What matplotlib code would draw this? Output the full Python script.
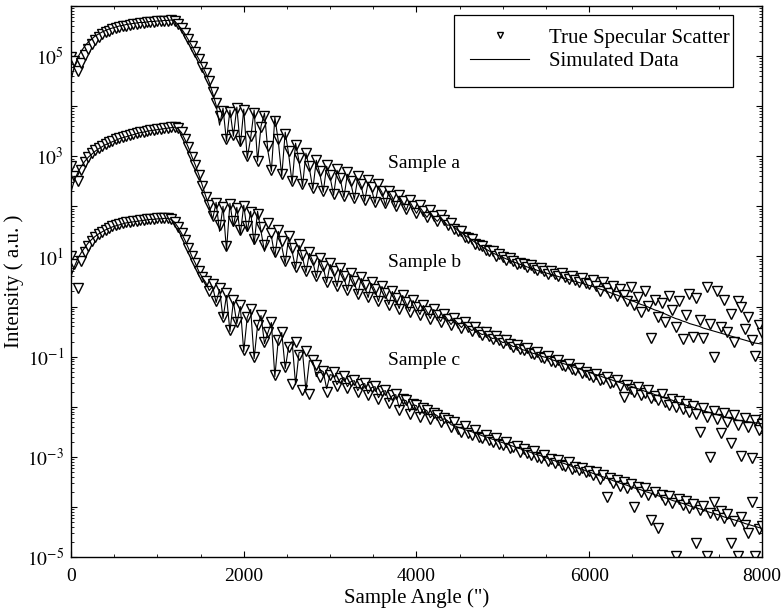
import numpy as np
import matplotlib
matplotlib.use('Agg')
import matplotlib.pyplot as plt
from matplotlib.patches import Rectangle
from matplotlib.ticker import FixedLocator, LogLocator, NullFormatter

plt.rcParams['font.family'] = ['Liberation Serif', 'DejaVu Serif']
plt.rcParams['mathtext.fontset'] = 'stix'

# sample angle grid (arc seconds), one point every 40"
angle = np.arange(0, 8001, 40)

# log10 intensity, measured (true specular scatter) and simulated, per sample
meas_a = [
    4.98, 4.90, 4.70, 4.86, 5.02, 5.14, 5.24, 5.32, 5.38, 5.43,
    5.47, 5.50, 5.53, 5.55, 5.57, 5.59, 5.60, 5.62, 5.63, 5.64,
    5.65, 5.66, 5.67, 5.67, 5.68, 5.69, 5.69, 5.70, 5.70, 5.71,
    5.70, 5.64, 5.56, 5.46, 5.34, 5.20, 5.08, 4.95, 4.78, 4.66,
    4.50, 4.28, 4.06, 3.80, 3.90, 3.34, 3.88, 3.42, 3.96, 3.30,
    3.92, 3.00, 3.40, 3.86, 2.90, 3.58, 3.80, 3.20, 2.72, 3.70,
    3.34, 2.64, 3.44, 3.10, 2.50, 3.22, 2.96, 2.44, 3.06, 2.80,
    2.36, 2.92, 2.70, 2.30, 2.82, 2.62, 2.24, 2.74, 2.56, 2.20,
    2.68, 2.50, 2.16, 2.60, 2.44, 2.12, 2.52, 2.38, 2.08, 2.44,
    2.30, 2.06, 2.30, 2.20, 2.00, 2.22, 2.10, 1.94, 2.12, 2.00,
    1.86, 2.02, 1.90, 1.78, 1.92, 1.80, 1.70, 1.82, 1.72, 1.62,
    1.66, 1.54, 1.50, 1.50, 1.38, 1.36, 1.34, 1.24, 1.22, 1.20,
    1.12, 1.10, 1.10, 1.00, 1.04, 0.98, 0.92, 0.96, 0.90, 0.84,
    0.86, 0.84, 0.78, 0.82, 0.76, 0.72, 0.76, 0.70, 0.64, 0.70,
    0.64, 0.60, 0.66, 0.58, 0.54, 0.60, 0.52, 0.48, 0.56, 0.46,
    0.44, 0.52, 0.40, 0.30, 0.48, 0.36, 0.26, 0.40, 0.20, 0.34,
    0.22, 0.10, 0.38, 0.04, 0.18, -0.10, 0.30, 0.02, -0.62, 0.12,
    -0.20, 0.06, -0.30, 0.20, -0.06, -0.40, 0.10, -0.64, -0.16, 0.24,
    -0.60, 0.16, -0.26, -0.62, 0.38, -0.34, -1.00, 0.30, -0.40, 0.12,
    -0.50, -0.14, -0.70, 0.10, 0.00, -0.44, -0.20, -0.66, -0.98, -0.36,
    -0.52,
]
sim_a = [
    4.52, 4.80, 4.98, 5.10, 5.20, 5.28, 5.34, 5.40, 5.44, 5.48,
    5.51, 5.54, 5.56, 5.58, 5.60, 5.61, 5.63, 5.64, 5.65, 5.66,
    5.67, 5.67, 5.68, 5.69, 5.69, 5.70, 5.70, 5.71, 5.71, 5.72,
    5.70, 5.62, 5.54, 5.44, 5.32, 5.20, 5.06, 4.94, 4.80, 4.66,
    4.48, 4.26, 4.02, 3.62, 3.96, 3.30, 3.92, 3.40, 3.98, 3.20,
    3.94, 2.96, 3.36, 3.92, 2.90, 3.60, 3.86, 3.10, 2.70, 3.78,
    3.30, 2.60, 3.48, 3.04, 2.46, 3.26, 2.90, 2.40, 3.06, 2.76,
    2.34, 2.92, 2.66, 2.28, 2.80, 2.58, 2.22, 2.72, 2.52, 2.18,
    2.64, 2.46, 2.14, 2.56, 2.40, 2.10, 2.48, 2.34, 2.06, 2.40,
    2.28, 2.02, 2.30, 2.18, 1.98, 2.20, 2.08, 1.92, 2.10, 1.98,
    1.86, 1.98, 1.88, 1.78, 1.88, 1.78, 1.70, 1.78, 1.70, 1.62,
    1.64, 1.58, 1.52, 1.48, 1.42, 1.38, 1.33, 1.28, 1.24, 1.19,
    1.15, 1.11, 1.07, 1.04, 1.01, 0.98, 0.95, 0.92, 0.89, 0.87,
    0.84, 0.82, 0.79, 0.77, 0.75, 0.72, 0.70, 0.68, 0.66, 0.64,
    0.62, 0.60, 0.58, 0.56, 0.54, 0.52, 0.50, 0.48, 0.46, 0.44,
    0.42, 0.40, 0.38, 0.35, 0.33, 0.30, 0.28, 0.25, 0.23, 0.20,
    0.18, 0.15, 0.12, 0.10, 0.07, 0.04, 0.02, -0.01, -0.04, -0.07,
    -0.09, -0.12, -0.15, -0.18, -0.21, -0.24, -0.26, -0.29, -0.31, -0.34,
    -0.36, -0.38, -0.40, -0.43, -0.45, -0.47, -0.49, -0.51, -0.53, -0.55,
    -0.57, -0.59, -0.61, -0.63, -0.65, -0.67, -0.69, -0.71, -0.73, -0.74,
    -0.75,
]

meas_b = [
    2.80, 2.60, 2.50, 2.72, 2.88, 2.98, 3.06, 3.12, 3.17, 3.21,
    3.25, 3.28, 3.31, 3.34, 3.36, 3.38, 3.40, 3.42, 3.44, 3.46,
    3.48, 3.49, 3.51, 3.52, 3.53, 3.54, 3.55, 3.56, 3.57, 3.58,
    3.58, 3.56, 3.48, 3.34, 3.18, 2.98, 2.82, 2.62, 2.40, 2.18,
    2.02, 1.80, 2.06, 1.62, 1.98, 1.20, 2.04, 1.70, 1.96, 1.52,
    2.00, 1.60, 1.88, 1.34, 1.84, 1.58, 1.22, 1.66, 1.46, 1.08,
    1.52, 1.30, 0.90, 1.40, 1.16, 0.78, 1.24, 1.02, 0.70, 1.08,
    0.92, 0.60, 0.96, 0.80, 0.48, 0.86, 0.70, 0.40, 0.76, 0.60,
    0.32, 0.66, 0.50, 0.24, 0.58, 0.42, 0.18, 0.48, 0.34, 0.10,
    0.40, 0.26, 0.04, 0.30, 0.16, -0.04, 0.22, 0.08, -0.10, 0.12,
    0.00, -0.16, 0.04, -0.08, -0.24, -0.04, -0.16, -0.30, -0.14, -0.24,
    -0.36, -0.22, -0.32, -0.42, -0.30, -0.40, -0.48, -0.40, -0.50, -0.56,
    -0.50, -0.58, -0.64, -0.58, -0.66, -0.72, -0.66, -0.74, -0.80, -0.76,
    -0.84, -0.86, -0.82, -0.92, -0.94, -0.90, -1.00, -1.02, -0.98, -1.08,
    -1.10, -1.06, -1.16, -1.18, -1.14, -1.24, -1.26, -1.22, -1.32, -1.30,
    -1.36, -1.40, -1.34, -1.46, -1.44, -1.40, -1.52, -1.50, -1.46, -1.58,
    -1.80, -1.56, -1.64, -1.70, -1.60, -1.76, -1.72, -1.66, -1.82, -1.78,
    -1.86, -1.74, -1.90, -1.96, -1.84, -2.00, -1.88, -2.04, -1.94, -2.10,
    -1.98, -2.14, -2.50, -2.02, -2.20, -3.00, -2.08, -2.24, -2.52, -2.12,
    -2.30, -2.72, -2.16, -2.36, -2.98, -2.22, -2.40, -3.02, -2.26, -2.46,
    -2.34,
]
sim_b = [
    2.29, 2.52, 2.68, 2.80, 2.90, 2.98, 3.04, 3.10, 3.15, 3.19,
    3.23, 3.26, 3.29, 3.32, 3.35, 3.37, 3.39, 3.41, 3.43, 3.45,
    3.47, 3.48, 3.50, 3.51, 3.52, 3.53, 3.54, 3.55, 3.56, 3.57,
    3.58, 3.55, 3.47, 3.33, 3.17, 2.99, 2.82, 2.63, 2.42, 2.20,
    2.00, 1.74, 2.08, 1.50, 2.00, 1.12, 2.06, 1.60, 1.98, 1.44,
    2.02, 1.50, 1.90, 1.24, 1.90, 1.50, 1.10, 1.40, 1.40, 1.00,
    1.50, 1.20, 0.86, 1.38, 1.10, 0.76, 1.22, 0.98, 0.68, 1.06,
    0.90, 0.58, 0.94, 0.78, 0.48, 0.84, 0.68, 0.40, 0.74, 0.58,
    0.32, 0.64, 0.48, 0.24, 0.56, 0.40, 0.18, 0.46, 0.32, 0.10,
    0.40, 0.24, 0.04, 0.30, 0.14, -0.04, 0.22, 0.06, -0.10, 0.12,
    -0.02, -0.16, 0.02, -0.10, -0.24, -0.06, -0.18, -0.30, -0.16, -0.26,
    -0.36, -0.26, -0.34, -0.42, -0.34, -0.42, -0.48, -0.44, -0.52, -0.56,
    -0.54, -0.60, -0.64, -0.62, -0.68, -0.72, -0.70, -0.76, -0.80, -0.80,
    -0.84, -0.87, -0.88, -0.92, -0.94, -0.95, -0.99, -1.01, -1.02, -1.06,
    -1.08, -1.10, -1.13, -1.15, -1.17, -1.20, -1.22, -1.24, -1.27, -1.29,
    -1.31, -1.34, -1.36, -1.38, -1.41, -1.43, -1.45, -1.48, -1.50, -1.52,
    -1.55, -1.57, -1.59, -1.62, -1.64, -1.66, -1.69, -1.71, -1.73, -1.76,
    -1.78, -1.80, -1.83, -1.85, -1.87, -1.90, -1.92, -1.94, -1.97, -1.99,
    -2.01, -2.04, -2.06, -2.08, -2.10, -2.12, -2.14, -2.16, -2.18, -2.20,
    -2.22, -2.24, -2.25, -2.27, -2.28, -2.29, -2.30, -2.31, -2.32, -2.33,
    -2.34,
]

meas_c = [
    1.00, 0.84, 0.36, 0.90, 1.08, 1.20, 1.30, 1.38, 1.44, 1.49,
    1.53, 1.57, 1.60, 1.62, 1.64, 1.66, 1.68, 1.69, 1.70, 1.71,
    1.72, 1.73, 1.74, 1.75, 1.75, 1.76, 1.76, 1.77, 1.77, 1.74,
    1.68, 1.58, 1.46, 1.32, 1.16, 1.00, 0.86, 0.70, 0.58, 0.50,
    0.30, 0.44, 0.10, 0.36, -0.20, 0.26, -0.46, 0.12, -0.30, 0.04,
    -0.86, -0.20, -0.04, -1.00, -0.36, -0.16, -0.70, -0.50, -0.30, -1.36,
    -0.66, -0.50, -1.20, -0.80, -1.54, -0.70, -0.96, -1.66, -0.88, -1.74,
    -1.06, -1.16, -1.40, -1.28, -1.70, -1.36, -1.30, -1.58, -1.42, -1.38,
    -1.62, -1.48, -1.46, -1.70, -1.54, -1.52, -1.76, -1.60, -1.58, -1.84,
    -1.68, -1.66, -1.92, -1.76, -1.74, -2.06, -1.84, -1.86, -2.14, -1.94,
    -1.96, -2.20, -2.02, -2.06, -2.24, -2.12, -2.16, -2.30, -2.22, -2.26,
    -2.40, -2.30, -2.44, -2.50, -2.38, -2.52, -2.56, -2.46, -2.60, -2.62,
    -2.56, -2.66, -2.70, -2.62, -2.74, -2.76, -2.70, -2.82, -2.80, -2.78,
    -2.90, -2.84, -2.92, -2.96, -2.88, -3.00, -3.02, -2.96, -3.08, -3.04,
    -3.12, -3.06, -3.16, -3.18, -3.10, -3.24, -3.20, -3.26, -3.22, -3.30,
    -3.28, -3.36, -3.30, -3.44, -3.36, -3.80, -3.42, -3.52, -3.46, -3.58,
    -3.50, -3.62, -3.54, -4.00, -3.60, -3.70, -3.62, -3.76, -4.26, -3.70,
    -4.42, -3.76, -3.86, -3.78, -3.92, -4.98, -3.84, -3.96, -3.88, -4.02,
    -3.94, -4.72, -4.06, -3.98, -4.98, -4.12, -3.90, -4.16, -4.08, -4.22,
    -4.14, -4.72, -4.28, -4.98, -4.20, -4.36, -4.52, -3.90, -4.98, -4.44,
    -4.38,
]
sim_c = [
    0.60, 0.80, 0.96, 1.08, 1.18, 1.27, 1.34, 1.40, 1.45, 1.49,
    1.53, 1.56, 1.59, 1.61, 1.63, 1.65, 1.67, 1.68, 1.69, 1.70,
    1.71, 1.72, 1.73, 1.74, 1.74, 1.75, 1.75, 1.76, 1.76, 1.74,
    1.68, 1.58, 1.46, 1.32, 1.16, 1.00, 0.86, 0.70, 0.58, 0.48,
    0.32, 0.40, 0.08, 0.34, -0.24, 0.22, -0.50, 0.10, -0.34, 0.00,
    -0.90, -0.22, -0.06, -1.04, -0.38, -0.18, -0.74, -0.52, -0.32, -1.40,
    -0.66, -0.52, -1.24, -0.80, -0.70, -1.56, -0.92, -0.90, -1.68, -1.08,
    -1.10, -1.40, -1.26, -1.30, -1.64, -1.36, -1.38, -1.56, -1.44, -1.42,
    -1.60, -1.50, -1.48, -1.68, -1.56, -1.54, -1.74, -1.62, -1.60, -1.82,
    -1.70, -1.68, -1.90, -1.78, -1.76, -2.02, -1.86, -1.88, -2.10, -1.96,
    -1.98, -2.16, -2.04, -2.08, -2.22, -2.14, -2.18, -2.28, -2.24, -2.28,
    -2.36, -2.38, -2.41, -2.43, -2.46, -2.48, -2.50, -2.53, -2.55, -2.58,
    -2.60, -2.62, -2.65, -2.67, -2.70, -2.72, -2.74, -2.77, -2.79, -2.82,
    -2.84, -2.86, -2.89, -2.91, -2.94, -2.96, -2.98, -3.01, -3.03, -3.06,
    -3.08, -3.10, -3.12, -3.14, -3.17, -3.19, -3.21, -3.23, -3.25, -3.28,
    -3.30, -3.33, -3.35, -3.38, -3.40, -3.43, -3.45, -3.48, -3.50, -3.53,
    -3.55, -3.57, -3.60, -3.62, -3.64, -3.66, -3.69, -3.71, -3.73, -3.76,
    -3.78, -3.80, -3.82, -3.84, -3.87, -3.89, -3.91, -3.93, -3.95, -3.98,
    -4.00, -4.02, -4.04, -4.06, -4.09, -4.11, -4.13, -4.15, -4.17, -4.20,
    -4.22, -4.24, -4.26, -4.28, -4.30, -4.33, -4.35, -4.37, -4.39, -4.41,
    -4.43,
]

sample_names = ['Sample a', 'Sample b', 'Sample c']
label_pos = [(3670, 10**2.85), (3670, 10**0.87), (3670, 10**-1.07)]

fig = plt.figure(figsize=(7.82, 6.13), dpi=100)
ax = fig.add_axes([0.0908, 0.0914, 0.8836, 0.8989])

for k, (meas, sim) in enumerate([(meas_a, sim_a), (meas_b, sim_b), (meas_c, sim_c)]):
    ax.plot(angle, 10**np.array(meas), linestyle='none', marker='v', ms=7,
            mfc='white', mec='black', mew=1.0, zorder=2,
            label='True Specular Scatter' if k == 0 else None)
    ax.plot(angle, 10**np.array(sim), color='black', lw=0.8, zorder=3,
            label='Simulated Data' if k == 0 else None)

for name, (x, y) in zip(sample_names, label_pos):
    ax.text(x, y, name, fontsize=14, ha='left', va='center')

ax.set_yscale('log')
ax.set_xlim(0, 8000)
ax.set_ylim(1e-5, 1e6)

ax.set_xticks([0, 2000, 4000, 6000, 8000])
ax.xaxis.set_minor_locator(FixedLocator(np.arange(0, 8001, 500)))
decades = [10.0**e for e in range(-5, 7)]
ax.yaxis.set_major_locator(FixedLocator(decades))
ax.set_yticklabels(['$10^{%d}$' % e if e % 2 else '' for e in range(-5, 7)])
ax.yaxis.set_minor_locator(LogLocator(base=10, subs=np.arange(2, 10), numticks=30))
ax.yaxis.set_minor_formatter(NullFormatter())
ax.tick_params(which='both', direction='in', top=True, right=True, labelsize=14)
ax.tick_params(which='major', length=4, width=0.8)
ax.tick_params(which='minor', length=2, width=0.6)
ax.tick_params(axis='x', which='major', pad=8)
ax.tick_params(axis='y', which='major', pad=5)
for s in ax.spines.values():
    s.set_linewidth(1.0)

ax.set_xlabel('Sample Angle (")', fontsize=15, labelpad=2)
ax.set_ylabel('Intensity ( a.u. )', fontsize=15, labelpad=2)

# legend: entries without frame, box drawn separately to match the original
leg = ax.legend(loc='upper left', bbox_to_anchor=(0.578, 0.960), borderaxespad=0,
                borderpad=0, fontsize=15, numpoints=1, markerscale=0.65,
                handlelength=2.8, handletextpad=0.95, labelspacing=0.2,
                frameon=False)
ax.add_patch(Rectangle((0.554, 0.853), 0.404, 0.131, transform=ax.transAxes,
                       fill=False, edgecolor='black', linewidth=0.9, zorder=5))

fig.savefig('out.png', dpi=100)
